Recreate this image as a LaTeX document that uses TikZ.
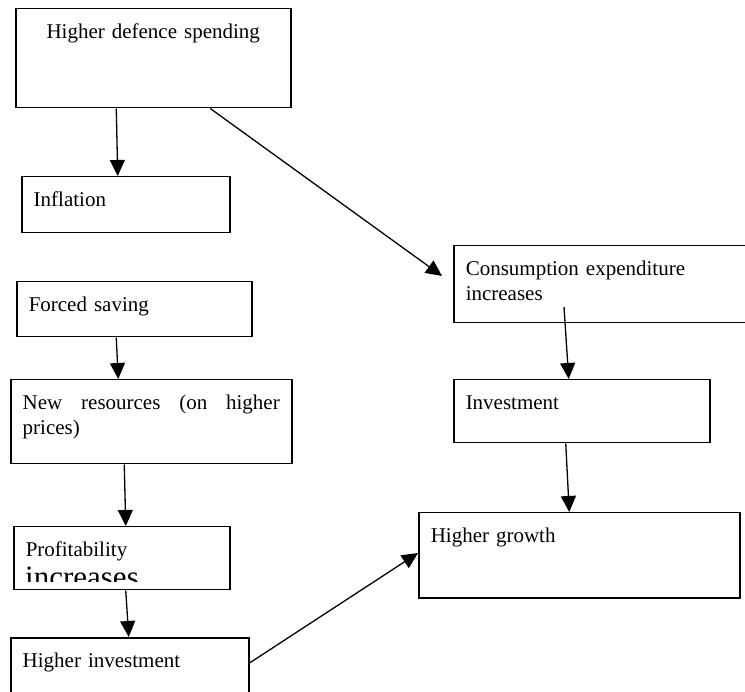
\documentclass[tikz,border=0pt]{standalone}
\usepackage{fontspec}
\setmainfont{Liberation Serif}
\usetikzlibrary{arrows.meta}
\hyphenpenalty=10000
\tikzset{
  box/.style={draw, line width=1.5pt, anchor=north west, inner xsep=12pt, inner ysep=0pt,
    align=left, text height=30pt, font=\fontsize{21}{25}\selectfont},
  arr/.style={-{Triangle[length=16pt,width=15pt]}, line width=1.3pt}
}
\begin{document}
\begin{tikzpicture}[x=1pt,y=1pt]
\clip (0,0) rectangle (745,-692);
\node(defence) at (15,-8)[box,align=center,text width=251pt,text depth=69pt] {Higher defence spending};
\node(inflation) at (21,-176)[box,text width=184pt,text depth=26pt] {Inflation};
\node(forced) at (16,-281)[box,text width=211pt,text depth=25pt] {Forced saving};
\node(newres) at (10,-379)[box,align=justify,text width=257pt,text depth=54pt] {New resources (on higher prices)};
\node(profit) at (13,-526)[box,text width=192pt,text depth=33pt] {Profitability};
\node(highinv) at (10,-637)[box,text width=214pt,text depth=45pt] {Higher investment};
\node(cons) at (453,-245)[box,text width=276pt,text depth=47pt] {Consumption expenditure\\increases};
\node(invest) at (453,-379)[box,text width=232pt,text depth=33pt] {Investment};
\node(growth) at (418,-512)[box,text width=297pt,text depth=55pt] {Higher growth};
\begin{scope}
\clip (profit.north west) rectangle ([yshift=9pt]profit.south east);
\node(incr) at ([xshift=12pt,yshift=-61pt]profit.north west)[anchor=base west,inner sep=0pt,font=\fontsize{31}{36}\selectfont] {increases};
\end{scope}
\path [arr]
  ([xshift=-37pt]defence.south)               edge  ([xshift=-8pt]inflation.north)
  ([xshift=57pt]defence.south)                edge  ([xshift=-11pt,yshift=-31pt]cons.north west)
  ([xshift=-18pt]forced.south)                edge  ([xshift=-33pt]newres.north)
  ([xshift=-27pt]newres.south)                edge  ([xshift=4pt]profit.north)
  ([xshift=4pt]profit.south)                  edge  ([xshift=-1pt]highinv.north)
  ([yshift=-26pt]highinv.north east)          edge  ([yshift=-41pt]growth.north west)
  ([xshift=111pt,yshift=-62pt]cons.north west) edge ([xshift=-13pt]invest.north)
  ([xshift=-16pt]invest.south)                edge  ([xshift=-10pt]growth.north);
\end{tikzpicture}
\end{document}
